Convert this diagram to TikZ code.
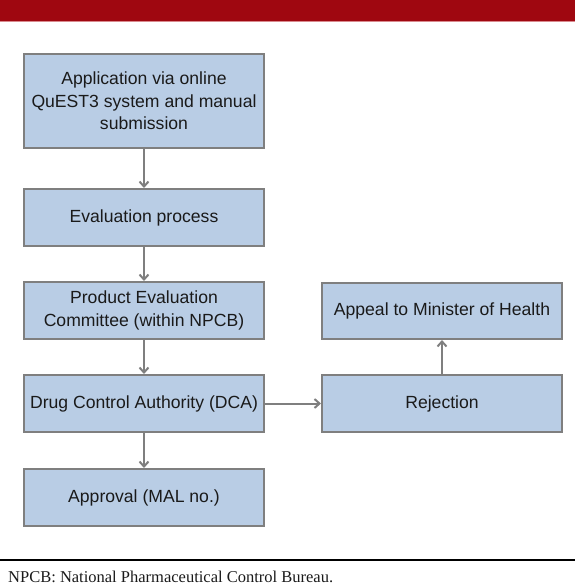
\documentclass[tikz,border=0pt]{standalone}
\usepackage{fontspec}
\setmainfont{Liberation Serif}
\setsansfont{Liberation Sans}
\usetikzlibrary{arrows.meta}
\definecolor{bandred}{HTML}{9F0710}
\definecolor{bandline}{HTML}{D98A8E}
\definecolor{boxfill}{HTML}{B9CDE5}
\definecolor{boxline}{HTML}{7F7F7F}
\definecolor{arrowgray}{HTML}{7F7F7F}
\definecolor{txt}{HTML}{1A1A1A}
\begin{document}
\begin{tikzpicture}[x=1pt,y=-1pt,
  flowbox/.style={draw=boxline, line width=2pt, fill=boxfill, minimum width=240pt,
    inner sep=2pt, align=center, text=txt,
    font=\sffamily\fontsize{17.6}{22.5}\selectfont},
  flowarrow/.style={draw=arrowgray, line width=2pt, -{Straight Barb[length=5pt,width=9pt]}}]
\useasboundingbox (0,0) rectangle (575,587);
% header band
\fill[bandred] (0,0) rectangle (575,21);
\draw[bandline, line width=1pt] (0,21.5) -- (575,21.5);
% boxes
\node[flowbox, minimum height=94pt] (app) at (144,101) {Application via online\\QuEST3 system and manual\\submission};
\node[flowbox, minimum height=57pt] (eval) at (144,217.5) {Evaluation process};
\node[flowbox, minimum height=57pt] (pec) at (144,310.5) {Product Evaluation\\Committee (within NPCB)};
\node[flowbox, minimum height=57pt] (dca) at (144,403.5) {Drug Control Authority (DCA)};
\node[flowbox, minimum height=57pt] (appr) at (144,497.5) {Approval (MAL no.)};
\node[flowbox, minimum height=56pt] (appeal) at (442,311) {Appeal to Minister of Health};
\node[flowbox, minimum height=57pt] (rej) at (442,403.5) {Rejection};
% connectors
\draw[flowarrow] (app) -- (eval);
\draw[flowarrow] (eval) -- (pec);
\draw[flowarrow] (pec) -- (dca);
\draw[flowarrow] (dca) -- (appr);
\draw[flowarrow] (dca) -- (rej);
\draw[flowarrow] (rej) -- (appeal);
% footer
\coordinate (ruleL) at (0,560);
\coordinate (ruleR) at (575,560);
\draw[black, line width=1.2pt] (ruleL) -- (ruleR);
\node[anchor=base west, inner sep=0pt, text=txt, font=\rmfamily\fontsize{16.5}{20}\selectfont] (note) at (8,582) {NPCB: National Pharmaceutical Control Bureau.};
\end{tikzpicture}
\end{document}
